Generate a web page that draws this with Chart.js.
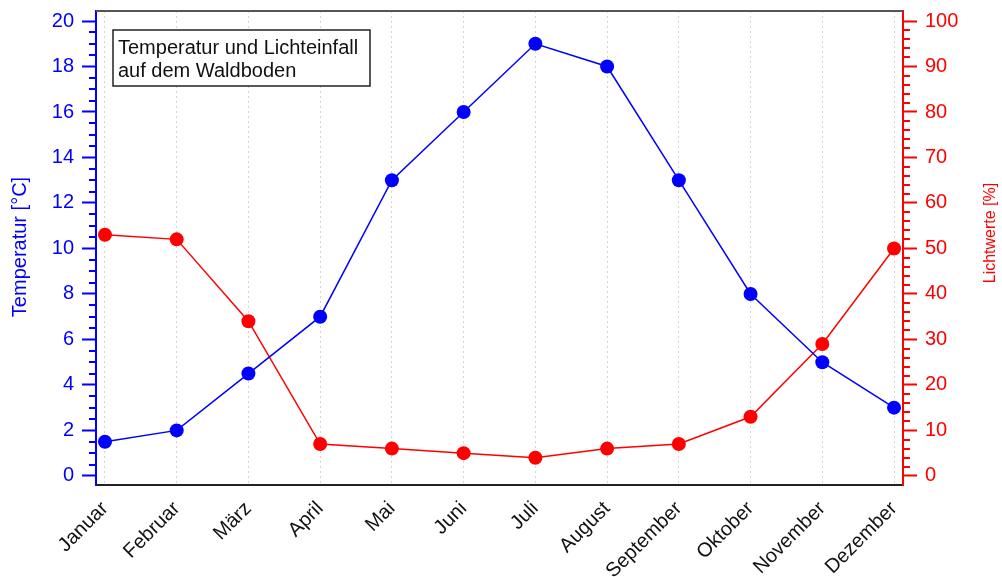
<!DOCTYPE html>
<html>
<head>
<meta charset="utf-8">
<script src="https://cdn.jsdelivr.net/npm/chart.js@4/dist/chart.umd.min.js"></script>
<style>
  html, body { margin: 0; padding: 0; background: #fff; }
  #wrap { width: 1002px; height: 577px; }
</style>
</head>
<body>
<div id="wrap"><canvas id="chart"></canvas></div>
<script>
// data
const months = ['Januar', 'Februar', 'März', 'April', 'Mai', 'Juni', 'Juli', 'August', 'September', 'Oktober', 'November', 'Dezember'];
const temperatur = [1.5, 2, 4.5, 7, 13, 16, 19, 18, 13, 8, 5, 3];
const lichtwerte = [53, 52, 34, 7, 6, 5, 4, 6, 7, 13, 29, 50];
const tempTicks = [0, 2, 4, 6, 8, 10, 12, 14, 16, 18, 20];
const lichtTicks = [0, 10, 20, 30, 40, 50, 60, 70, 80, 90, 100];

const BLUE = '#0000ff';
const RED = '#ff0000';
const FONT = "'Liberation Sans', Arial, sans-serif";

Chart.defaults.font.family = FONT;
Chart.defaults.font.size = 20;

function toPoints(values) {
    return values.map((v, i) => ({ x: i, y: v }));
}

// fixed axis box sizes so the plot area lands where it does in the picture
function fitY(width) {
    return s => {
        s.width = width;
        s.paddingTop = 0;
        s.paddingBottom = 0;
    };
}

// minor ticks, frame, axis titles and the note box
const extras = {
    id: 'extras',
    afterDraw(chart) {
        const ctx = chart.ctx;
        const area = chart.chartArea;
        const yl = chart.scales.y;
        const yr = chart.scales.y1;

        ctx.save();
        ctx.lineWidth = 2;

        // minor ticks left
        ctx.strokeStyle = BLUE;
        ctx.beginPath();
        for (let v = 0; v <= 20; v += 0.5) {
            if (v % 2 === 0) continue;
            const y = Math.round(yl.getPixelForValue(v));
            ctx.moveTo(area.left - 7, y);
            ctx.lineTo(area.left, y);
        }
        ctx.stroke();

        // minor ticks right
        ctx.strokeStyle = RED;
        ctx.beginPath();
        for (let v = 0; v <= 100; v += 2) {
            if (v % 10 === 0) continue;
            const y = Math.round(yr.getPixelForValue(v));
            ctx.moveTo(area.right, y);
            ctx.lineTo(area.right + 7, y);
        }
        ctx.stroke();

        // top frame line
        ctx.strokeStyle = '#555';
        ctx.beginPath();
        ctx.moveTo(area.left, area.top);
        ctx.lineTo(area.right, area.top);
        ctx.stroke();

        // axis titles
        ctx.textAlign = 'center';
        ctx.textBaseline = 'middle';
        ctx.fillStyle = BLUE;
        ctx.font = '20px ' + FONT;
        ctx.translate(20, 247);
        ctx.rotate(-Math.PI / 2);
        ctx.fillText('Temperatur [°C]', 0, 0);
        ctx.setTransform(1, 0, 0, 1, 0, 0);

        ctx.fillStyle = RED;
        ctx.font = '16px ' + FONT;
        ctx.translate(991, 233);
        ctx.rotate(-Math.PI / 2);
        ctx.fillText('Lichtwerte [%]', 0, 0);
        ctx.setTransform(1, 0, 0, 1, 0, 0);

        // note box
        const bx = area.left + 17, by = area.top + 19;
        ctx.fillStyle = '#fff';
        ctx.fillRect(bx, by, 257, 56);
        ctx.strokeStyle = '#222';
        ctx.lineWidth = 1.5;
        ctx.strokeRect(bx, by, 257, 56);
        ctx.fillStyle = '#111';
        ctx.font = '20px ' + FONT;
        ctx.textAlign = 'left';
        ctx.fillText('Temperatur und Lichteinfall', bx + 5, by + 18);
        ctx.fillText('auf dem Waldboden', bx + 5, by + 41);
        ctx.restore();
    }
};

const ctx = document.getElementById('chart').getContext('2d');

new Chart(ctx, {
    type: 'line',
    data: {
        datasets: [{
            label: 'Temperatur',
            data: toPoints(temperatur),
            yAxisID: 'y',
            borderColor: BLUE,
            backgroundColor: BLUE,
            borderWidth: 1.5,
            pointRadius: 7,
            pointHoverRadius: 7,
            pointBorderWidth: 0,
            tension: 0
        }, {
            label: 'Lichtwerte',
            data: toPoints(lichtwerte),
            yAxisID: 'y1',
            borderColor: RED,
            backgroundColor: RED,
            borderWidth: 1.5,
            pointRadius: 7,
            pointHoverRadius: 7,
            pointBorderWidth: 0,
            tension: 0
        }]
    },
    options: {
        responsive: true,
        maintainAspectRatio: false,
        animation: false,
        layout: { padding: { top: 11, left: 0, right: 0, bottom: 0 } },
        plugins: {
            legend: { display: false },
            tooltip: { enabled: false }
        },
        scales: {
            x: {
                type: 'linear',
                min: -0.125,
                max: 11.125,
                afterBuildTicks: s => { s.ticks = months.map((m, i) => ({ value: i })); },
                afterFit: s => { s.height = 92; },
                ticks: {
                    color: '#111',
                    autoSkip: false,
                    maxRotation: 45,
                    minRotation: 45,
                    padding: 12,
                    callback: v => months[v]
                },
                grid: {
                    color: '#d4d4d4',
                    lineWidth: 1,
                    drawTicks: false
                },
                border: { color: '#222', width: 2, dash: [2, 3] }
            },
            y: {
                position: 'left',
                min: -0.4,
                max: 20.44,
                afterBuildTicks: s => { s.ticks = tempTicks.map(v => ({ value: v })); },
                afterFit: fitY(96),
                ticks: { color: BLUE, padding: 8 },
                grid: {
                    drawOnChartArea: false,
                    tickColor: BLUE,
                    tickLength: 14,
                    tickWidth: 2
                },
                border: { color: BLUE, width: 2 }
            },
            y1: {
                position: 'right',
                min: -2,
                max: 102.2,
                afterBuildTicks: s => { s.ticks = lichtTicks.map(v => ({ value: v })); },
                afterFit: fitY(99),
                ticks: { color: RED, padding: 8 },
                grid: {
                    drawOnChartArea: false,
                    tickColor: RED,
                    tickLength: 14,
                    tickWidth: 2
                },
                border: { color: RED, width: 2 }
            }
        }
    },
    plugins: [extras]
});
</script>
</body>
</html>
